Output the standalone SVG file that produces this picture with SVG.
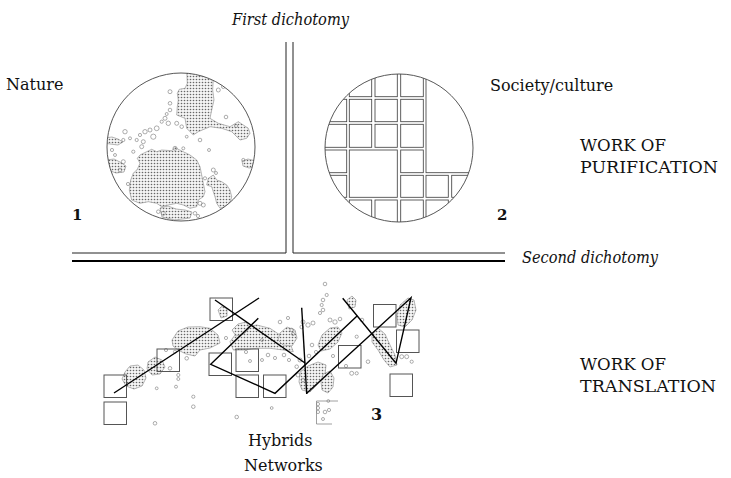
<svg xmlns="http://www.w3.org/2000/svg" width="731" height="478" viewBox="0 0 731 478">
<style>
text{font-family:"DejaVu Serif","Liberation Serif",serif;font-size:16px;fill:#111}
.it{font-style:italic}
.b{font-weight:bold;font-size:15px}
.axis{stroke:#222;stroke-width:1;fill:none}
.thick{stroke:#000;stroke-width:2.2;fill:none}
.cell{fill:none;stroke:#444;stroke-width:0.85}
.rim{fill:none;stroke:#444;stroke-width:0.9}
.blob{fill:url(#dots);stroke:#888;stroke-width:0.6;stroke-linejoin:round}
.o{fill:none;stroke:#777;stroke-width:0.6}
.sq{fill:none;stroke:#555;stroke-width:1}
.ln{fill:none;stroke:#000;stroke-width:1.4;stroke-linejoin:miter}
</style>
<defs>
<pattern id="dots" width="3" height="3" patternUnits="userSpaceOnUse"><rect width="3" height="3" fill="#f4f4f4"/><circle cx="1.5" cy="1.5" r="0.8" fill="#666"/></pattern>
<clipPath id="c1"><circle cx="181" cy="147" r="74"/></clipPath>
<clipPath id="c2"><circle cx="399" cy="148" r="74"/></clipPath>
</defs>
<rect width="731" height="478" fill="#fff"/>

<g id="axes">
<path class="axis" d="M286,42 V253 H72"/>
<path class="axis" d="M293,42 V253 H505"/>
<path class="thick" d="M72,261 H505"/>
</g>

<g id="labels">
<text class="it" x="232" y="25" textLength="117" lengthAdjust="spacingAndGlyphs">First dichotomy</text>
<text x="6" y="90">Nature</text>
<text x="490" y="91">Society/culture</text>
<text x="580" y="150.5" textLength="86" lengthAdjust="spacingAndGlyphs">WORK OF</text>
<text x="580" y="172.5" textLength="138" lengthAdjust="spacingAndGlyphs">PURIFICATION</text>
<text class="b" x="72" y="219.5">1</text>
<text class="b" x="497" y="219.5">2</text>
<text class="it" x="522" y="263" textLength="136" lengthAdjust="spacingAndGlyphs">Second dichotomy</text>
<text x="580" y="369.5" textLength="86" lengthAdjust="spacingAndGlyphs">WORK OF</text>
<text x="580" y="391.5" textLength="136" lengthAdjust="spacingAndGlyphs">TRANSLATION</text>
<text class="b" x="371" y="420" style="font-size:16px">3</text>
<text x="248" y="445.5">Hybrids</text>
<text x="244" y="470.5">Networks</text>
</g>

<g id="nature">
<circle cx="181" cy="147" r="74" fill="#fff"/>
<g clip-path="url(#c1)">
<path class="blob" d="M186.7,70 L213.3,70 L213.3,78.3 L212.7,90 L214,100 L211.7,110 L210,118.3 L218.3,123.3 L230,126.7 L238.3,121.7 L248.3,128.3 L250,133.3 L246.7,138.3 L240,140 L231.7,131.7 L221.7,128.3 L210,126.7 L198.3,131.7 L193.3,135 L186.7,128.3 L185,118.3 L176.7,115 L177.3,106.7 L178.3,100 L177.3,93.3 L179.3,89.3 L185,88.3 L187.3,83.3 Z"/>
<path class="blob" d="M140,155 L146.7,151.7 L151.7,149.3 L156.7,151.7 L161.7,150 L171.7,150.7 L175,147.3 L178.3,149.3 L183.3,151.7 L190,155 L196.7,160 L200,166.7 L201.7,175 L203.3,183.3 L205,191.7 L203.3,196.7 L198.3,200 L196.7,206.7 L190,208.3 L183.3,205 L176.7,203.3 L168.3,205 L161.7,206.7 L156.7,203.3 L148.3,201.7 L140,203.3 L131.7,200 L129.3,190 L130.7,180 L133.3,173.3 L137.3,169.3 L140,163.3 L137.3,158.3 Z"/>
<path class="blob" d="M208.3,178.3 L213.3,175 L216.7,180 L221.7,181.7 L226.7,185 L230,190 L231.7,196.7 L230,203.3 L225,206.7 L220,208.3 L216.7,203.3 L215,196.7 L213.3,191.7 L211.7,186.7 L206.7,185 Z"/>
<path class="blob" d="M104,138 L112,137 L118,139 L123,142 L118,145 L110,144 L104,143 Z"/>
<path class="blob" d="M106,160 L114,159 L120,162 L126,166 L124,172 L116,173 L108,170 Z"/>
<path class="blob" d="M242,161 L248,159 L256,161 L256,167 L249,168 L243,166 Z"/>
<path class="blob" d="M160,208 L168,206 L176,209 L185,210 L192,212 L190,218 L175,220 L162,217 Z"/>
<g class="o">
<circle cx="170" cy="91.7" r="2"/><circle cx="170" cy="103.3" r="1.8"/><circle cx="170" cy="110" r="1.8"/>
<circle cx="166.7" cy="114" r="1.5"/><circle cx="165" cy="118.3" r="2"/><circle cx="161.7" cy="121.7" r="1.6"/>
<circle cx="168.3" cy="123.3" r="2.2"/><circle cx="176.7" cy="123.3" r="2"/><circle cx="181.7" cy="126.7" r="1.8"/>
<circle cx="156.7" cy="128.3" r="2.4"/><circle cx="150" cy="130" r="2"/><circle cx="145" cy="131.7" r="2.2"/>
<circle cx="140" cy="135" r="1.6"/><circle cx="136.7" cy="140" r="1.6"/><circle cx="143.3" cy="141.7" r="2"/>
<circle cx="125" cy="131.7" r="2.2"/><circle cx="123.3" cy="140" r="1.6"/><circle cx="130" cy="138.3" r="1.5"/>
<circle cx="153.3" cy="136.7" r="2.6"/><circle cx="186.7" cy="136.7" r="1.4"/><circle cx="200" cy="140" r="1.8"/>
<circle cx="175" cy="148.3" r="2"/><circle cx="183.3" cy="148.3" r="1.5"/><circle cx="141.7" cy="146.7" r="2"/>
<circle cx="133.3" cy="151.7" r="1.6"/><circle cx="123.3" cy="161.7" r="2"/><circle cx="120" cy="170" r="1.8"/>
<circle cx="213.3" cy="170" r="2"/><circle cx="216" cy="173" r="1.5"/><circle cx="205" cy="178.3" r="1.6"/>
<circle cx="200" cy="203.3" r="2"/><circle cx="203.3" cy="205" r="2"/><circle cx="163.3" cy="213.3" r="2"/>
<circle cx="158.3" cy="211.7" r="1.8"/><circle cx="218.3" cy="90" r="2"/><circle cx="223.3" cy="86.7" r="1.8"/>
<circle cx="243.3" cy="160" r="1.6"/><circle cx="195" cy="213.3" r="1.8"/><circle cx="198" cy="216" r="1.6"/>
<circle cx="112" cy="150" r="1.6"/><circle cx="115" cy="155" r="1.5"/><circle cx="128" cy="184" r="1.6"/>
<circle cx="209" cy="150" r="1.5"/><circle cx="226" cy="117" r="1.8"/><circle cx="236" cy="126" r="1.6"/>
</g>
</g>
<circle class="rim" cx="181" cy="147" r="74"/>
</g>

<g id="society">
<circle cx="399" cy="148" r="74" fill="#fff"/>
<g clip-path="url(#c2)">
<rect class="cell" x="349.3" y="66" width="22.4" height="30.7"/>
<rect class="cell" x="375" y="66" width="22.3" height="30.7"/>
<rect class="cell" x="400.7" y="66" width="22.6" height="30.7"/>
<rect class="cell" x="426" y="60" width="60" height="112.7"/>
<rect class="cell" x="318" y="99.3" width="28.7" height="22.4"/>
<rect class="cell" x="349.3" y="99.3" width="22.4" height="22.4"/>
<rect class="cell" x="375" y="99.3" width="22.3" height="22.4"/>
<rect class="cell" x="400.7" y="99.3" width="22.6" height="22.4"/>
<rect class="cell" x="318" y="124.3" width="28.7" height="23"/>
<rect class="cell" x="349.3" y="124.3" width="22.4" height="23"/>
<rect class="cell" x="375" y="124.3" width="22.3" height="23"/>
<rect class="cell" x="400.7" y="124.3" width="22.6" height="23"/>
<rect class="cell" x="318" y="150" width="28.7" height="22.7"/>
<rect class="cell" x="349.3" y="150" width="48" height="47.3"/>
<rect class="cell" x="400.7" y="150" width="22.6" height="22.7"/>
<rect class="cell" x="318" y="175.3" width="28.7" height="22"/>
<rect class="cell" x="400.7" y="175.3" width="22.6" height="22"/>
<rect class="cell" x="426" y="175.3" width="22.3" height="22"/>
<rect class="cell" x="451.7" y="175.3" width="30" height="22"/>
<rect class="cell" x="318" y="200" width="28.7" height="30"/>
<rect class="cell" x="349.3" y="200" width="22.4" height="30"/>
<rect class="cell" x="375" y="200" width="22.3" height="30"/>
<rect class="cell" x="400.7" y="200" width="22.6" height="30"/>
<rect class="cell" x="426" y="200" width="22.3" height="30"/>
<rect class="cell" x="451.7" y="200" width="30" height="30"/>
</g>
<circle class="rim" cx="399" cy="148" r="74"/>
</g>

<g id="hybrids">
<path class="blob" d="M125,372 L130,366 L138,365 L144,370 L146,378 L142,386 L134,389 L126,386 L122,379 Z"/>
<path class="blob" d="M148,362 L155,357 L162,360 L165,367 L160,374 L152,375 L147,369 Z"/>
<path class="blob" d="M172,340 L178,331 L188,327 L200,326.7 L210,328.3 L218,335 L220,343 L210,348 L200,350 L195,356 L186,354 L178,350 L173,346 Z"/>
<path class="blob" d="M230,341.7 L240,328.3 L256.7,325 L270,328.3 L280,335 L290,343.3 L293.3,351.7 L283.3,350 L270,348.3 L256.7,348.3 L243.3,350 L233.3,350 Z"/>
<path class="blob" d="M280,333 L287,327 L295,330 L297,338 L292,346 L283,345 L278,340 Z"/>
<path class="blob" d="M318,345 L322,335 L330,328 L338,327 L342,333 L338,342 L330,349 L321,351 Z"/>
<path class="blob" d="M300,372 L308,366 L318,362 L326,365 L325,375 L318,384 L310,392 L302,390 L299,382 Z"/>
<path class="blob" d="M323,374 L330,371 L334,378 L333,387 L328,393 L322,390 L321,382 Z"/>
<path class="blob" d="M372,335 L378,328 L385,334 L390,345 L395,355 L397,365 L390,367 L384,360 L378,350 L372,342 Z"/>
<path class="blob" d="M400,305 L408,298 L414,300 L416,310 L412,320 L405,327 L398,325 L397,315 Z"/>
<path class="blob" d="M347,300 L352,296 L356,300 L355,307 L349,309 Z"/>
<path class="blob" d="M218,310 L222,306 L227,309 L227,316 L221,318 Z"/>
<path class="blob" d="M232,330 L238,324 L246,322 L250,328 L244,334 L236,336 Z"/>
<g class="o">
<circle cx="325" cy="284" r="1.8"/><circle cx="326.7" cy="295" r="1.6"/><circle cx="323" cy="300" r="1.8"/>
<circle cx="321.7" cy="305" r="1.6"/><circle cx="323" cy="310" r="1.8"/><circle cx="320" cy="313" r="1.6"/>
<circle cx="303" cy="322" r="2"/><circle cx="301.7" cy="327" r="1.8"/><circle cx="308" cy="325" r="2.2"/>
<circle cx="313" cy="323" r="2"/><circle cx="291.7" cy="330" r="1.8"/><circle cx="293" cy="334" r="1.6"/>
<circle cx="330" cy="320" r="2"/><circle cx="335" cy="322" r="2.2"/><circle cx="340" cy="319" r="1.8"/>
<circle cx="356.7" cy="336.7" r="1.6"/><circle cx="368" cy="361.7" r="1.8"/><circle cx="351.7" cy="373.3" r="2"/>
<circle cx="356.7" cy="373.3" r="1.6"/><circle cx="328.3" cy="401" r="1.4"/><circle cx="271.7" cy="408" r="1.4"/>
<circle cx="300" cy="360" r="2"/><circle cx="296.7" cy="366.7" r="1.8"/><circle cx="298" cy="375" r="2"/>
<circle cx="303" cy="380" r="1.8"/><circle cx="401.7" cy="356.7" r="2"/><circle cx="406.7" cy="356.7" r="2"/>
<circle cx="411.7" cy="361.7" r="1.6"/><circle cx="156.7" cy="388.3" r="1.4"/><circle cx="176" cy="386.7" r="1.5"/>
<circle cx="193.3" cy="396.7" r="1.6"/><circle cx="193.3" cy="406.7" r="1.8"/><circle cx="236.7" cy="417" r="1.8"/>
<circle cx="155" cy="423.3" r="1.8"/><circle cx="170" cy="368.3" r="1.8"/><circle cx="178.3" cy="375" r="1.6"/>
<circle cx="178.3" cy="379" r="1.5"/><circle cx="175" cy="351.7" r="1.6"/><circle cx="186.7" cy="358.3" r="1.8"/>
<circle cx="268" cy="355" r="1.8"/><circle cx="275" cy="358" r="1.6"/><circle cx="262" cy="360" r="1.5"/>
<circle cx="284" cy="355" r="1.8"/><circle cx="289" cy="360" r="1.6"/><circle cx="250" cy="361" r="1.5"/>
<circle cx="312" cy="345" r="1.8"/><circle cx="316" cy="352" r="1.6"/><circle cx="309" cy="356" r="1.8"/>
<circle cx="346" cy="366" r="1.6"/><circle cx="333" cy="356" r="1.6"/><circle cx="362" cy="320" r="1.8"/>
<circle cx="318" cy="404" r="1.6"/><circle cx="318" cy="408" r="1.6"/><circle cx="318" cy="412" r="1.6"/>
<circle cx="325" cy="412" r="1.8"/><circle cx="329" cy="410" r="1.6"/><circle cx="323" cy="419" r="1.5"/>
<circle cx="246" cy="352" r="1.6"/><circle cx="226" cy="338" r="1.6"/><circle cx="166" cy="350" r="1.6"/>
<circle cx="262" cy="340" r="1.5"/><circle cx="288" cy="318" r="1.6"/><circle cx="280" cy="322" r="1.8"/>
</g>
<g class="sq">
<rect x="104" y="375" width="22.5" height="22.5"/>
<rect x="104" y="402" width="22.5" height="22.5"/>
<rect x="157" y="349" width="22.5" height="22.5"/>
<rect x="210" y="298" width="22.5" height="22.5"/>
<rect x="209" y="353" width="22.5" height="22.5"/>
<rect x="236" y="349" width="22.5" height="22.5"/>
<rect x="236" y="375" width="22.5" height="22.5"/>
<rect x="263.5" y="375" width="22.5" height="22.5"/>
<rect x="338.5" y="345.5" width="22.5" height="22.5"/>
<rect x="373.5" y="304.5" width="22.5" height="22.5"/>
<rect x="396.5" y="330" width="22.5" height="22.5"/>
<rect x="390" y="374" width="22.5" height="22.5"/>
<path d="M338,401 H316.5 V424 H332" stroke="#888" stroke-width="0.8"/>
</g>
</g>

<g id="connectors">
<path class="ln" d="M114,393 L259,298"/>
<path class="ln" d="M215,300 L305,363"/>
<path class="ln" d="M258.3,318.3 L210.7,364.3 L275,393.3 L357.3,315.7"/>
<path class="ln" d="M301.7,307.7 L306.7,394"/>
<path class="ln" d="M306.7,393.3 L411,297.7 L396,363.3 L342.7,298.3"/>
</g>
</svg>
